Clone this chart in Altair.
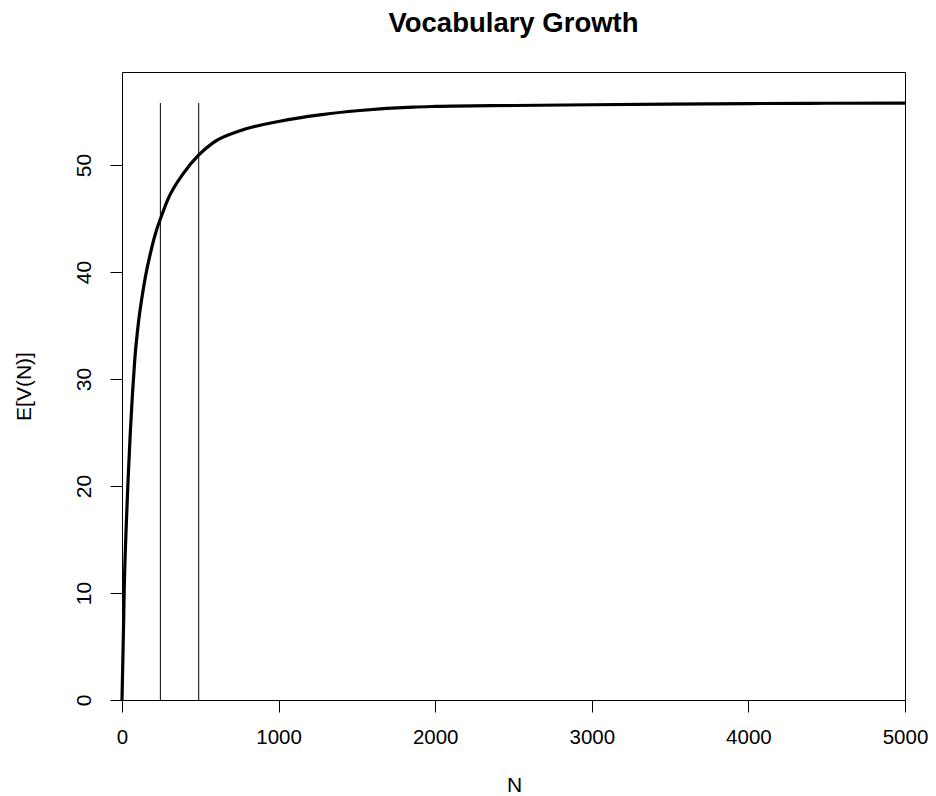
import altair as alt
import pandas as pd

# Curve values
N_vals = [0, 5, 10, 14, 25, 38, 53, 66, 81, 106, 125, 150, 187, 220, 251, 293, 391, 487,
          583, 753, 1008, 1264, 1519, 1857, 2000, 2500, 3000, 3500, 4000, 4500, 5000]
EV_vals = [0, 3.5, 7.0, 10.2, 15.5, 20.3, 25.0, 28.4, 31.7, 35.4, 37.4, 39.6, 42.1, 43.9,
           45.2, 46.8, 49.2, 50.9, 52.1, 53.2, 54.1, 54.7, 55.1, 55.42, 55.48, 55.57,
           55.64, 55.7, 55.75, 55.78, 55.8]

# Vertical reference lines
rule_N = [245, 490]
rule_top = [55.8, 55.8]

x_ticks = [0, 1000, 2000, 3000, 4000, 5000]
y_ticks = [0, 10, 20, 30, 40, 50]

FONT = "Liberation Sans"

curve = pd.DataFrame({"N": N_vals, "EV": EV_vals})
rules = pd.DataFrame({"N": rule_N, "y0": [0, 0], "y1": rule_top})

xscale = alt.Scale(domain=[0, 5000], nice=False, zero=False)
yscale = alt.Scale(domain=[0, 58.7], nice=False, zero=False)

xaxis = alt.Axis(values=x_ticks, format="d", title="N", grid=False, domain=False,
                 tickSize=12, tickColor="black", tickWidth=1,
                 labelFont=FONT, labelFontSize=20.5, labelColor="black",
                 labelPadding=15, labelBaseline="top", labelFlush=False,
                 titleFont=FONT, titleFontSize=21, titleFontWeight="normal",
                 titleColor="black", titleX=392, titleY=85, titleBaseline="middle",
                 titleAlign="center")
yaxis = alt.Axis(values=y_ticks, format="d", title="E[V(N)]", grid=False, domain=False,
                 tickSize=12, tickColor="black", tickWidth=1,
                 labelFont=FONT, labelFontSize=21, labelColor="black",
                 labelAngle=270, labelAlign="center", labelBaseline="alphabetic",
                 labelPadding=20, labelFlush=False,
                 titleFont=FONT, titleFontSize=21, titleFontWeight="normal",
                 titleColor="black", titleAngle=270, titleX=-98, titleY=314,
                 titleBaseline="middle", titleAlign="center")

line = alt.Chart(curve).mark_line(color="black", strokeWidth=3.2, interpolate="monotone").encode(
    x=alt.X("N:Q", scale=xscale, axis=xaxis),
    y=alt.Y("EV:Q", scale=yscale, axis=yaxis),
)

vlines = alt.Chart(rules).mark_rule(color="black", strokeWidth=1).encode(
    x=alt.X("N:Q", scale=xscale),
    y=alt.Y("y0:Q", scale=yscale),
    y2="y1:Q",
)

chart = alt.layer(vlines, line).properties(
    width=783,
    height=628,
    background="white",
    title=alt.TitleParams("Vocabulary Growth", font=FONT, fontSize=27.5, fontWeight="bold",
                          color="black", anchor="middle", baseline="bottom", offset=7),
    autosize=alt.AutoSizeParams(type="none"),
    padding={"left": 114, "top": 64, "right": 23, "bottom": 96},
).configure_view(stroke="black", strokeWidth=1)

chart.save("out.html", embed_options={"renderer": "svg", "actions": False})
